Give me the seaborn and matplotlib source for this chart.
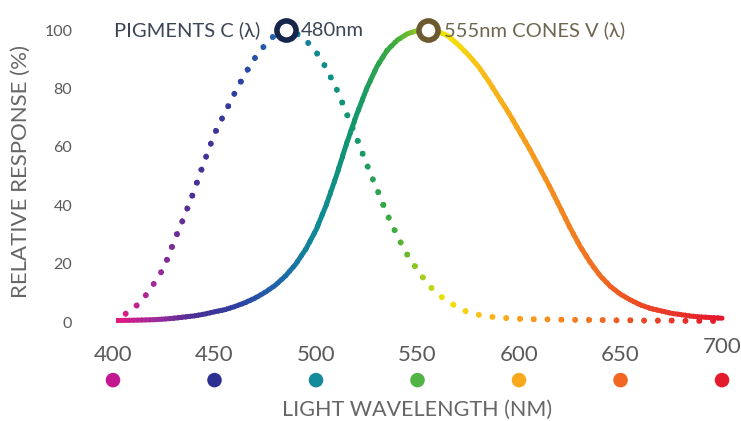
import numpy as np
import matplotlib
matplotlib.use("Agg")
import matplotlib.pyplot as plt
import matplotlib.transforms as mtransforms
from matplotlib.colors import LinearSegmentedColormap
from matplotlib.patches import Rectangle
import seaborn as sns

# wavelength grid (nm) and the two response curves (%)
wavelength = np.arange(400, 701, 5)
cones_v = [0.5, 0.55, 0.6, 0.7, 0.8, 1.0, 1.3, 1.7, 2.1, 2.7,
           3.5, 4.2, 5.3, 6.6, 8.2, 10.2, 12.6, 15.8, 19.8, 25.0,
           31.5, 40.0, 50.0, 61.0, 71.0, 80.0, 87.5, 93.0, 96.5, 98.7,
           99.8, 100.0, 99.5, 98.0, 95.0, 91.5, 87.5, 82.5, 77.0, 71.5,
           65.5, 59.5, 53.0, 46.5, 39.5, 32.5, 26.0, 20.5, 15.8, 12.2,
           9.5, 7.5, 5.8, 4.6, 3.8, 3.0, 2.5, 2.0, 1.7, 1.5, 1.3]
pigments_c = [1.0, 2.3, 4.5, 8.0, 13.0, 18.5, 27.5, 36.0, 45.0, 55.0,
              64.5, 71.5, 78.5, 85.0, 90.5, 95.0, 98.5, 100.0, 99.0, 96.5,
              92.5, 87.0, 80.0, 71.6, 63.0, 54.0, 45.5, 37.0, 29.5, 23.0,
              17.8, 13.0, 9.5, 7.0, 5.0, 3.3, 2.5, 1.9, 1.5, 1.3,
              1.1, 1.0, 0.9, 0.9, 0.8, 0.8, 0.7, 0.7, 0.7, 0.6,
              0.6, 0.6, 0.5, 0.5, 0.5, 0.5, 0.4, 0.4, 0.4, 0.4, 0.4]

tick_nm = [400, 450, 500, 550, 600, 650, 700]
tick_colors = ['#c4168f', '#2e3192', '#138b9a', '#52b446', '#f7a81b', '#f26722', '#e31b2b']
y_ticks = [0, 20, 40, 60, 80, 100]

spectrum_nm = [400, 420, 440, 460, 480, 500, 520, 540, 555, 565, 580, 600, 630, 660, 700]
spectrum_hex = ['#e8187e', '#a02a9a', '#4a2f94', '#2f3da0', '#1f63ad', '#0f8a96', '#12986a',
                '#43ad3a', '#b8d31a', '#f4e400', '#f9c11a', '#f7a21b', '#f27b20', '#ec4a25', '#e3182d']

cmap = LinearSegmentedColormap.from_list(
    'spectrum', [((n - 400) / 300, c) for n, c in zip(spectrum_nm, spectrum_hex)])

sns.set_theme(style="white")
plt.rcParams['font.family'] = ['Lato', 'DejaVu Sans']

fig = plt.figure(figsize=(7.41, 4.21), dpi=100)
ax = fig.add_axes([0.1388, 0.2143, 0.8493, 0.756])


def gradient_line(x, y, step=2.0, **kw):
    # same line drawn many times, each copy clipped to a thin wavelength band
    edges = np.arange(400, 700, step)
    for lo in edges:
        c = cmap(min(max((lo + step / 2 - 400) / 300, 0), 1))
        line, = ax.plot(x, y, color=c, **kw)
        left = lo - 0.3 if lo > 400 else 380
        width = step + 0.6 if lo + step < 700 else 40
        clip = Rectangle((left, -50), width, 200, transform=ax.transData)
        line.set_clip_path(clip)


gradient_line(wavelength, pigments_c, linewidth=4.3, linestyle=(0, (0.01, 2.3)),
              dash_capstyle='round')
gradient_line(wavelength, cones_v, linewidth=3.6, solid_capstyle='round')

# peak markers
i_c = int(np.argmax(pigments_c))
i_v = int(np.argmax(cones_v))
sns.scatterplot(x=[wavelength[i_c]], y=[pigments_c[i_c]], ax=ax, s=190, color='white',
                edgecolor='#16264a', linewidth=4.0, zorder=5)
sns.scatterplot(x=[wavelength[i_v]], y=[cones_v[i_v]], ax=ax, s=190, color='white',
                edgecolor='#6b5a30', linewidth=4.0, zorder=5)

ax.annotate('PIGMENTS C (λ)', (wavelength[i_c], pigments_c[i_c]), xytext=(-18, 0),
            textcoords='offset points', ha='right', va='center', fontsize=14.5, color='#3c4555')
ax.annotate('480nm', (wavelength[i_c], pigments_c[i_c]), xytext=(11, 0),
            textcoords='offset points', ha='left', va='center', fontsize=14.5, color='#3c4555')
ax.annotate('555nm CONES V (λ)', (wavelength[i_v], cones_v[i_v]), xytext=(12, 0),
            textcoords='offset points', ha='left', va='center', fontsize=14.5, color='#6d6650')

ax.set_xlim(395, 705)
ax.set_ylim(-3, 106)
ax.set_yticks(y_ticks)
ax.set_xticks([])
ax.tick_params(axis='y', length=0, pad=22, labelsize=11.5, labelcolor='#5a5a5a')
ax.set_ylabel('RELATIVE RESPONSE (%)', fontsize=16, color='#666666', labelpad=10)
sns.despine(ax=ax, left=True, bottom=True)

# x labels and coloured wavelength dots below the axis
trans = mtransforms.blended_transform_factory(ax.transData, ax.transAxes)
for nm in tick_nm:
    ax.text(nm, -0.051 if nm == 700 else -0.076, str(nm), transform=trans,
            ha='center', va='center', fontsize=16, color='#5a5a5a')
sns.scatterplot(x=tick_nm, y=[-0.155] * len(tick_nm), hue=tick_nm,
                palette=dict(zip(tick_nm, tick_colors)), legend=False,
                s=110, linewidth=0, ax=ax, transform=trans, clip_on=False)
ax.text(0.5, -0.249, 'LIGHT WAVELENGTH (NM)', transform=ax.transAxes, ha='center',
        va='center', fontsize=15.5, color='#666666')

ax.set_xlim(395, 705)
ax.set_ylim(-3, 106)
fig.savefig('out.png', dpi=100)
